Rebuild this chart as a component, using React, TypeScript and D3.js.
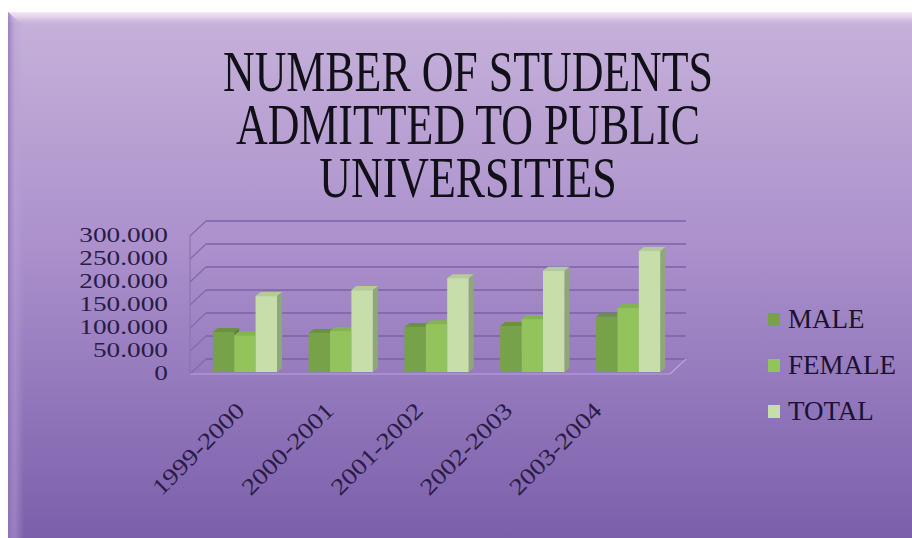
import React from "react";
import * as d3 from "d3";

// Academic years on the category axis
const categories = ["1999-2000", "2000-2001", "2001-2002", "2002-2003", "2003-2004"];
// Series names shown in the legend
const seriesNames = ["MALE", "FEMALE", "TOTAL"];
// Students admitted per year
const maleValues = [87000, 85000, 98000, 100000, 120000];
const femaleValues = [80000, 89000, 104000, 115000, 139000];
const totalValues = [165000, 178000, 204000, 220000, 263000];
// Value axis ticks and their printed labels
const tickValues = [0, 50000, 100000, 150000, 200000, 250000, 300000];
const tickLabels = ["0", "50.000", "100.000", "150.000", "200.000", "250.000", "300.000"];

const titleLines = ["NUMBER OF STUDENTS", "ADMITTED TO PUBLIC", "UNIVERSITIES"];

const W = 912;
const H = 538;

// oblique projection of the 3-D plot box
const FRONT_LEFT = 190;
const FRONT_RIGHT = 670;
const FLOOR_Y = 374;
const DEPTH_DX = 16;
const DEPTH_DY = -15;
const BAR_BASE = 372;
const BAR_DX = 5;
const BAR_DY = -4;

const faceColors = [
  { front: "#78a24a", side: "#5d7f38", top: "#6a9142" },
  { front: "#93c45c", side: "#749c48", top: "#84b352" },
  { front: "#c7deaa", side: "#8fa87a", top: "#b4cc98" },
];

export default function App() {
  const seriesValues = [maleValues, femaleValues, totalValues];

  const yFront = d3.scaleLinear().domain([0, 300000]).range([FLOOR_Y, FLOOR_Y - 138]);
  const yBar = d3.scaleLinear().domain([0, 300000]).range([BAR_BASE, BAR_BASE - 138]);

  const xGroup = d3
    .scaleBand<string>()
    .domain(categories)
    .range([FRONT_LEFT, FRONT_RIGHT])
    .paddingInner(0.33)
    .paddingOuter(0.17)
    .align(0.7);
  const xSeries = d3
    .scaleBand<string>()
    .domain(seriesNames)
    .range([0, xGroup.bandwidth()]);

  const xLabel = d3.scalePoint<string>().domain(categories).range([246, 603]);

  const pts = (p: [number, number][]) => p.map((q) => q.join(",")).join(" ");

  const titleScale = 0.77;
  const titleX = 468 / titleScale;

  return (
    <svg
      width={W}
      height={H}
      style={{ position: "absolute", left: 0, top: 0, background: "#ffffff" }}
      fontFamily="'Liberation Serif', 'Times New Roman', serif"
    >
      <defs>
        <linearGradient id="panelFill" x1="0" y1="0" x2="0" y2="1">
          <stop offset="0" stopColor="#c7b2da" />
          <stop offset="0.45" stopColor="#ab90cc" />
          <stop offset="1" stopColor="#7b5fab" />
        </linearGradient>
        <linearGradient id="topBevel" x1="0" y1="0" x2="0" y2="1">
          <stop offset="0" stopColor="#f6ecf6" stopOpacity="0.95" />
          <stop offset="0.35" stopColor="#eadbee" stopOpacity="0.8" />
          <stop offset="1" stopColor="#c6b2d9" stopOpacity="0" />
        </linearGradient>
        <linearGradient id="leftBevel" x1="0" y1="0" x2="1" y2="0">
          <stop offset="0" stopColor="#8f74b8" stopOpacity="0.8" />
          <stop offset="0.45" stopColor="#b9a2d6" stopOpacity="0.45" />
          <stop offset="1" stopColor="#b9a2d6" stopOpacity="0" />
        </linearGradient>
      </defs>

      {/* panel */}
      <rect x={8} y={12} width={W - 8} height={H - 12} fill="url(#panelFill)" />
      <rect x={8} y={12} width={W - 8} height={14} fill="url(#topBevel)" />
      <polygon points={pts([[8, 12], [24, 26], [24, H], [8, H]])} fill="url(#leftBevel)" />

      {/* title */}
      <text
        transform={`scale(${titleScale}, 1)`}
        textAnchor="middle"
        fontSize={57}
        fill="#111018"
      >
        {titleLines.map((line, i) => (
          <tspan key={line} x={titleX} y={91 + i * 53}>
            {line}
          </tspan>
        ))}
      </text>

      {/* back wall gridlines and left wall */}
      {tickValues.map((v) => (
        <g key={v}>
          <line
            x1={FRONT_LEFT + DEPTH_DX}
            x2={FRONT_RIGHT + DEPTH_DX}
            y1={yFront(v) + DEPTH_DY}
            y2={yFront(v) + DEPTH_DY}
            stroke="#7d62a6"
            strokeWidth={1.6}
          />
          <line
            x1={FRONT_LEFT}
            x2={FRONT_LEFT + DEPTH_DX}
            y1={yFront(v)}
            y2={yFront(v) + DEPTH_DY}
            stroke="#8469ac"
            strokeWidth={1.3}
          />
        </g>
      ))}
      <line
        x1={FRONT_LEFT}
        x2={FRONT_LEFT}
        y1={yFront(0)}
        y2={yFront(300000)}
        stroke="#8c74b0"
        strokeWidth={1.2}
      />
      {/* floor edges */}
      <line x1={FRONT_LEFT} x2={FRONT_RIGHT} y1={FLOOR_Y} y2={FLOOR_Y} stroke="#b9a6d4" strokeWidth={1.2} />
      <line
        x1={FRONT_RIGHT}
        x2={FRONT_RIGHT + DEPTH_DX}
        y1={FLOOR_Y}
        y2={FLOOR_Y + DEPTH_DY}
        stroke="#b9a6d4"
        strokeWidth={1.2}
      />

      {/* y tick labels */}
      {tickValues.map((v, i) => (
        <text
          key={v}
          transform={`translate(168, ${yFront(v) - 1}) scale(1.3, 1)`}
          textAnchor="end"
          dy="0.35em"
          fontSize={21}
          fill="#2a1c45"
        >
          {tickLabels[i]}
        </text>
      ))}

      {/* bars */}
      {categories.map((c, ci) => (
        <g key={c}>
          {seriesNames.map((s, si) => {
            const v = seriesValues[si][ci];
            const x0 = (xGroup(c) as number) + (xSeries(s) as number);
            const w = xSeries.bandwidth();
            const yt = yBar(v);
            const yb = yBar(0);
            const col = faceColors[si];
            return (
              <g key={s}>
                <polygon
                  points={pts([
                    [x0 + w, yt],
                    [x0 + w + BAR_DX, yt + BAR_DY],
                    [x0 + w + BAR_DX, yb + BAR_DY],
                    [x0 + w, yb],
                  ])}
                  fill={col.side}
                />
                <polygon
                  points={pts([
                    [x0, yt],
                    [x0 + w, yt],
                    [x0 + w + BAR_DX, yt + BAR_DY],
                    [x0 + BAR_DX, yt + BAR_DY],
                  ])}
                  fill={col.top}
                />
                <rect x={x0} y={yt} width={w} height={yb - yt} fill={col.front} />
              </g>
            );
          })}
        </g>
      ))}

      {/* category labels */}
      {categories.map((c) => (
        <text
          key={c}
          transform={`translate(${xLabel(c)}, 412) rotate(-45) scale(1.2, 1)`}
          textAnchor="end"
          fontSize={23}
          fill="#2a1c45"
        >
          {c}
        </text>
      ))}

      {/* legend */}
      {seriesNames.map((s, i) => (
        <g key={s} transform={`translate(768, ${328 + i * 46})`}>
          <rect x={0} y={-15} width={12} height={13} fill={faceColors[i].front} />
          <text x={20} y={0} fontSize={27} fill="#1a1230">
            {s}
          </text>
        </g>
      ))}
    </svg>
  );
}
